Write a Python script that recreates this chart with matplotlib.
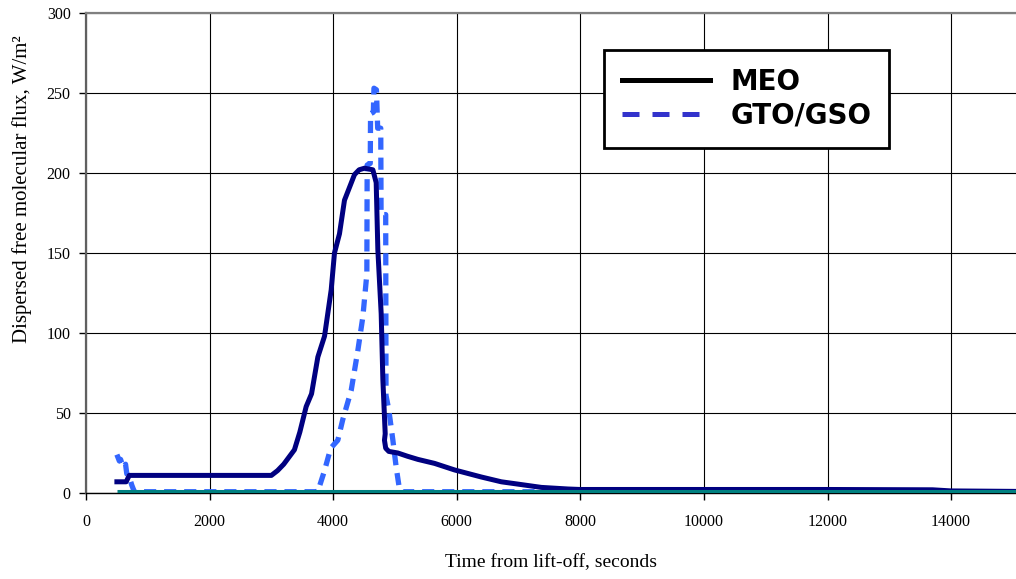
import matplotlib
matplotlib.use("Agg")
import matplotlib.pyplot as plt
from matplotlib.lines import Line2D

# ---- data ----
meo_t = [500, 650, 700, 3000, 3100, 3200, 3373, 3460, 3563, 3650, 3752, 3860, 3968,
         4021, 4102, 4183, 4264, 4345, 4420, 4507, 4642, 4696, 4723, 4777, 4804,
         4842, 4830, 4850, 4900, 5047, 5200, 5371, 5641, 5965, 6397, 6721, 7000,
         7368, 7800, 8000, 10000, 12000, 13700, 14000, 15050]
meo_flux = [7, 7, 11, 11, 14, 18, 27, 38, 54, 62, 85, 98, 127,
            150, 162, 183, 191, 199, 202, 203, 202, 194, 152, 112, 71,
            37, 33, 28, 26, 25, 23, 21, 18.5, 14.4, 10, 7, 5.5,
            3.5, 2.5, 2.2, 2.2, 2.2, 2.0, 1.3, 1.0]

gto_t = [500, 540, 560, 600, 640, 660, 700, 740, 780, 800, 3700, 3752, 3860, 3960,
         4075, 4156, 4291, 4399, 4480, 4545, 4550, 4600, 4605, 4650, 4660, 4700,
         4720, 4770, 4775, 4850, 4855, 4900, 4966, 5020, 5074, 5120, 15050]
gto_flux = [24, 20, 21, 16, 18, 12, 10, 5, 1, 0.8, 0.8, 1, 14, 28,
            33, 46, 64, 89, 110, 137, 205, 206, 237, 238, 253, 252,
            228, 228, 174, 174, 61, 52, 33, 16, 2, 0.8, 0.8]

base_t = [500, 15050]
base_flux = [0, 0]

x_ticks = [0, 2000, 4000, 6000, 8000, 10000, 12000, 14000]
y_ticks = [0, 50, 100, 150, 200, 250, 300]

# ---- figure ----
W, H = 1016, 579
fig = plt.figure(figsize=(W / 100, H / 100), dpi=100)
ax = fig.add_axes([86 / W, (H - 493) / H, (1016 - 86) / W, (493 - 13) / H])

base_line, = ax.plot(base_t, base_flux, color="#008080", lw=2.2,
                     solid_capstyle="butt", zorder=6, clip_on=False)
base_line.set_transform(base_line.get_transform() +
                        matplotlib.transforms.ScaledTranslation(0, 1.6 / 100,
                                                                fig.dpi_scale_trans))
ax.plot(gto_t, gto_flux, color="#3366FF", lw=3.8, linestyle=(0, (2.3, 1.5)),
        zorder=4)
ax.plot(meo_t, meo_flux, color="#000080", lw=3.6, solid_joinstyle="round", zorder=5)

ax.set_xlim(0, 15050)
ax.set_ylim(0, 300)
ax.set_xticks(x_ticks)
ax.set_yticks(y_ticks)
ax.grid(True, color="black", lw=0.8)
ax.set_axisbelow(True)

serif = "Liberation Serif"
ax.tick_params(axis="both", direction="out", length=5, width=1, color="black",
               labelsize=11.5)
ax.tick_params(axis="x", pad=10)
ax.tick_params(axis="y", pad=6)
for lab in ax.get_xticklabels() + ax.get_yticklabels():
    lab.set_family(serif)

ax.spines["right"].set_visible(False)
ax.spines["top"].set_color("#808080")
ax.spines["top"].set_linewidth(1.6)
ax.spines["left"].set_color("#606060")
ax.spines["left"].set_linewidth(1.6)
ax.spines["bottom"].set_color("black")
ax.spines["bottom"].set_linewidth(1.0)

ax.set_xlabel("Time from lift-off, seconds", family=serif, fontsize=14, va="center")
ax.xaxis.set_label_coords(0.5, (493 - 563) / 480)
ax.set_ylabel("Dispersed free molecular flux, W/m²", family=serif, fontsize=15,
              va="center")
ax.yaxis.set_label_coords((22 - 86) / 930, (493 - 189) / 480)

handles = [Line2D([], [], color="black", lw=3.6),
           Line2D([], [], color="#3333CC", lw=3.6, linestyle=(0, (3.4, 2.6)))]
leg = ax.legend(handles, ["MEO", "GTO/GSO"], loc="upper left",
                bbox_to_anchor=((604 - 86) / 930, (493 - 50) / 480),
                prop={"family": "DejaVu Sans", "weight": "bold", "size": 20},
                frameon=True, fancybox=False, framealpha=1, edgecolor="black",
                handlelength=3.15, handletextpad=0.75, labelspacing=0.2,
                borderpad=0.65, borderaxespad=0)
leg.get_frame().set_linewidth(2)
leg.set_zorder(10)

fig.savefig("out.png", dpi=100)
